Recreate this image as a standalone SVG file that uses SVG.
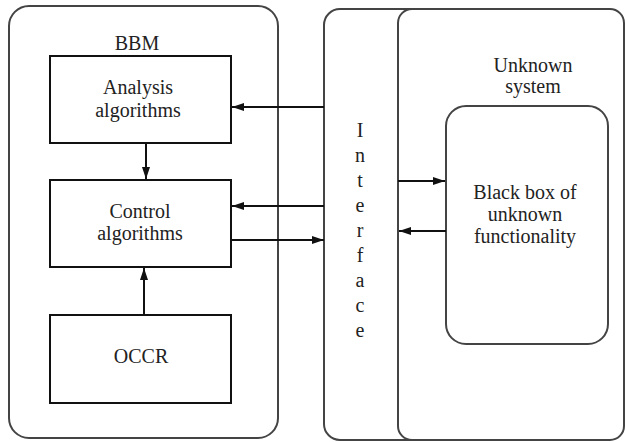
<svg xmlns="http://www.w3.org/2000/svg" width="625" height="442" viewBox="0 0 625 442">
<defs>
<style>
.outer{fill:#fff;stroke:#444;stroke-width:2}
.box{fill:#fff;stroke:#111;stroke-width:2}
.t{font-family:'Liberation Serif','Times New Roman',serif;font-size:20px;fill:#222;text-anchor:middle}
.c{stroke:#111;stroke-width:2;fill:none}
</style>
<marker id="ah" viewBox="0 0 12 10" refX="12" refY="5" markerWidth="12" markerHeight="10" markerUnits="userSpaceOnUse" orient="auto">
<path d="M0,1 L12,5 L0,9 Z" fill="#111"/>
</marker>
</defs>
<g id="bbm">
<rect class="outer" x="9" y="6" width="269" height="432" rx="20"/>
<text class="t" x="137" y="50">BBM</text>
</g>
<g id="interface">
<rect class="outer" x="324" y="9" width="110" height="431" rx="16"/>
<text class="t" x="360" y="137">I</text>
<text class="t" x="360" y="162">n</text>
<text class="t" x="360" y="187">t</text>
<text class="t" x="360" y="212">e</text>
<text class="t" x="360" y="237">r</text>
<text class="t" x="360" y="262">f</text>
<text class="t" x="360" y="287">a</text>
<text class="t" x="360" y="312">c</text>
<text class="t" x="360" y="337">e</text>
</g>
<g id="unknown-system">
<rect class="outer" x="398" y="9" width="226" height="431" rx="14"/>
<text class="t" x="533" y="72">Unknown</text>
<text class="t" x="533" y="93">system</text>
</g>
<g id="analysis">
<rect class="box" x="50" y="56" width="181" height="87"/>
<text class="t" x="138" y="94">Analysis</text>
<text class="t" x="138" y="117">algorithms</text>
</g>
<g id="control">
<rect class="box" x="50" y="180" width="181" height="87"/>
<text class="t" x="140" y="218">Control</text>
<text class="t" x="140" y="240">algorithms</text>
</g>
<g id="occr">
<rect class="box" x="50" y="315" width="181" height="88"/>
<text class="t" x="141" y="363">OCCR</text>
</g>
<g id="black-box">
<rect class="outer" x="446" y="106" width="162" height="238" rx="20"/>
<text class="t" x="525" y="199">Black box of</text>
<text class="t" x="525" y="221">unknown</text>
<text class="t" x="525" y="243">functionality</text>
</g>
<g id="connectors">
<line class="c" x1="324" y1="107" x2="232" y2="107" marker-end="url(#ah)"/>
<line class="c" x1="146" y1="143" x2="146" y2="179" marker-end="url(#ah)"/>
<line class="c" x1="324" y1="206" x2="232" y2="206" marker-end="url(#ah)"/>
<line class="c" x1="231" y1="240" x2="324" y2="240" marker-end="url(#ah)"/>
<line class="c" x1="144" y1="315" x2="144" y2="268" marker-end="url(#ah)"/>
<line class="c" x1="398" y1="181" x2="445" y2="181" marker-end="url(#ah)"/>
<line class="c" x1="446" y1="231" x2="399" y2="231" marker-end="url(#ah)"/>
</g>
</svg>
